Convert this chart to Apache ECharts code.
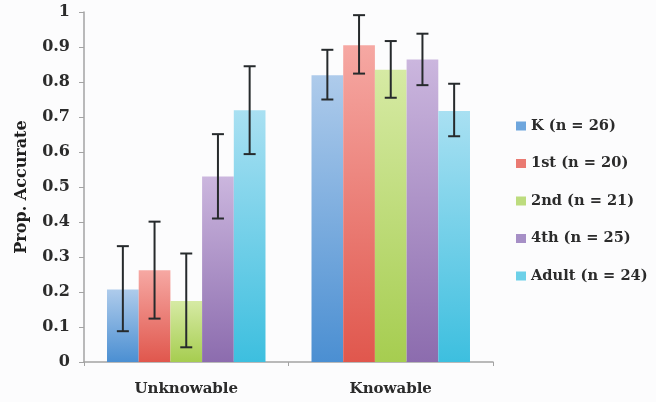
<!DOCTYPE html>
<html>
<head>
<meta charset="utf-8">
<script src="https://cdn.jsdelivr.net/npm/echarts@6/dist/echarts.min.js"></script>
<style>
    html, body { margin: 0; padding: 0; background: #fcfcfd; }
    #main { width: 656px; height: 402px; }
</style>
</head>
<body>
<div id="main"></div>
<script>
// data
var categories = ['Unknowable', 'Knowable'];
var groups = ['K (n = 26)', '1st (n = 20)', '2nd (n = 21)', '4th (n = 25)', 'Adult (n = 24)'];
var meanK = [0.207, 0.819];
var mean1st = [0.262, 0.905];
var mean2nd = [0.174, 0.835];
var mean4th = [0.530, 0.864];
var meanAdult = [0.719, 0.717];
var lowK = [0.088, 0.750], highK = [0.331, 0.892];
var low1st = [0.124, 0.824], high1st = [0.401, 0.991];
var low2nd = [0.042, 0.755], high2nd = [0.310, 0.917];
var low4th = [0.410, 0.791], high4th = [0.651, 0.938];
var lowAdult = [0.594, 0.645], highAdult = [0.845, 0.795];

var means = [meanK, mean1st, mean2nd, mean4th, meanAdult];
var lows = [lowK, low1st, low2nd, low4th, lowAdult];
var highs = [highK, high1st, high2nd, high4th, highAdult];

// top (light) / bottom (dark) of each bar gradient, and legend swatch
var colorTop = ['#aecbeb', '#f6a8a3', '#d6eaa4', '#cbb6de', '#a9e0f2'];
var colorBottom = ['#4b8fd2', '#e0574d', '#a6cd50', '#8c6cae', '#3dbfdf'];
var colorMid = ['#6ea6dd', '#ea7a72', '#bddc7e', '#a68fc6', '#6cd0e8'];

var gapPct = 0.225;
var font = 'DejaVu Serif';

var chart = echarts.init(document.getElementById('main'));

var series = [];
groups.forEach(function (name, i) {
    series.push({
        name: name,
        type: 'bar',
        barGap: '0%',
        barCategoryGap: (gapPct * 100) + '%',
        itemStyle: {
            color: new echarts.graphic.LinearGradient(0, 0, 0, 1, [
                { offset: 0, color: colorTop[i] },
                { offset: 1, color: colorBottom[i] }
            ])
        },
        data: means[i]
    });
});

groups.forEach(function (name, i) {
    var errData = categories.map(function (c, j) {
        return [j, lows[i][j], highs[i][j]];
    });
    series.push({
        name: name + ' err',
        type: 'custom',
        z: 10,
        data: errData,
        renderItem: function (params, api) {
            var band = api.size([1, 0])[0];
            var bw = band * (1 - gapPct) / groups.length;
            var dx = (i - (groups.length - 1) / 2) * bw;
            var lo = api.coord([api.value(0), api.value(1)]);
            var hi = api.coord([api.value(0), api.value(2)]);
            var x = lo[0] + dx;
            var cap = 6;
            var st = { stroke: '#262a2c', lineWidth: 2 };
            return {
                type: 'group',
                children: [
                    { type: 'line', shape: { x1: x, y1: hi[1], x2: x, y2: lo[1] }, style: st },
                    { type: 'line', shape: { x1: x - cap, y1: hi[1], x2: x + cap, y2: hi[1] }, style: st },
                    { type: 'line', shape: { x1: x - cap, y1: lo[1], x2: x + cap, y2: lo[1] }, style: st }
                ]
            };
        }
    });
});

var option = {
    backgroundColor: '#fcfcfd',
    animation: false,
    grid: { left: 84, right: 163, top: 12, bottom: 40 },
    legend: {
        orient: 'vertical',
        left: 511,
        top: 112,
        itemWidth: 10,
        itemHeight: 9,
        itemGap: 19.5,
        itemTextGap: 4,
        icon: 'rect',
        textStyle: { fontFamily: font, fontWeight: 'bold', fontSize: 14.6, color: '#2b2b2b', lineHeight: 18 },
        data: groups.map(function (g, i) {
            return { name: g, itemStyle: { color: colorMid[i] } };
        })
    },
    xAxis: {
        type: 'category',
        data: categories,
        axisLine: { lineStyle: { color: '#a3a3a3', width: 1.5 } },
        axisTick: { show: true, length: 4, lineStyle: { color: '#a3a3a3' } },
        axisLabel: { fontFamily: font, fontWeight: 'bold', fontSize: 15, color: '#2b2b2b', margin: 20 }
    },
    yAxis: {
        type: 'value',
        min: 0,
        max: 1,
        interval: 0.1,
        name: 'Prop. Accurate',
        nameLocation: 'middle',
        nameGap: 54,
        nameTextStyle: { fontFamily: font, fontWeight: 'bold', fontSize: 16, color: '#1e1e1e' },
        axisLine: { show: true, lineStyle: { color: '#a3a3a3', width: 1.5 } },
        axisTick: { show: true, length: 5, lineStyle: { color: '#a3a3a3' } },
        splitLine: { show: false },
        axisLabel: {
            fontFamily: font, fontWeight: 'bold', fontSize: 16, color: '#2b2b2b', margin: 14,
            formatter: function (v) { return String(Math.round(v * 10) / 10); }
        }
    },
    series: series
};

chart.setOption(option);
</script>
</body>
</html>
